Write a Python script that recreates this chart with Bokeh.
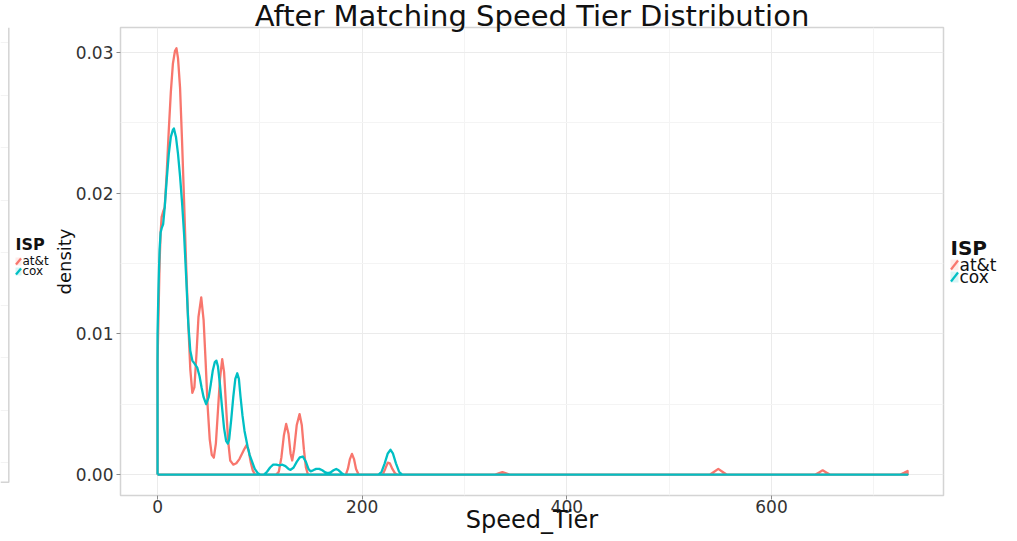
from bokeh.plotting import figure
from bokeh.layouts import row
from bokeh.models import Range1d, FixedTicker, PrintfTickFormatter
from bokeh.core.properties import value
from bokeh.embed import file_html
from bokeh.resources import INLINE

# ---------------- data ----------------
title_text = "After Matching Speed Tier Distribution"
x_label = "Speed_Tier"
y_label = "density"
legend_title = "ISP"
isp_names = ["at&t", "cox"]
isp_colors = ["#F8766D", "#00BFC4"]

att_x = [0, 1, 2, 3, 4, 5.5, 7, 9, 11, 13, 15, 17, 18.5, 20, 22, 24, 26, 28, 30, 32, 34,
         36, 38, 40, 42.7, 45, 47, 49, 51, 53, 55, 57, 59, 61, 63.2, 65, 67, 69, 71, 74, 77,
         80, 84, 87, 89, 91, 93, 95, 96,
         116, 118.5, 121, 123.5, 125.7, 128, 130, 131.6, 133.5, 136, 138.8, 141, 143, 145, 147,
         184, 186, 188, 190, 192, 194, 196.5,
         220, 222.5, 225, 227, 229.5, 232, 234,
         330, 334, 337, 340, 344,
         540, 544, 548, 552, 556,
         643, 646.5, 650, 653.5, 657,
         726, 729.5, 733]
att_y = [0.0080, 0.0115, 0.0150, 0.0172, 0.0183, 0.0187, 0.0190, 0.0215, 0.0245, 0.0272,
         0.0292, 0.0301, 0.0303, 0.0296, 0.0275, 0.0236, 0.0193, 0.0148, 0.0108, 0.0075,
         0.0058, 0.0062, 0.0085, 0.0112, 0.0126, 0.0110, 0.0080, 0.0048, 0.0025, 0.0014,
         0.0012, 0.0022, 0.0045, 0.0068, 0.0082, 0.0073, 0.0048, 0.0024, 0.0010, 0.0007,
         0.0008, 0.0011, 0.0017, 0.0021, 0.0017, 0.0009, 0.0003, 0.00005, 0.0,
         0.0, 0.0002, 0.0012, 0.0028, 0.0036, 0.0029, 0.0015, 0.0010, 0.0018, 0.0035,
         0.0043, 0.0035, 0.0018, 0.0005, 0.0,
         0.0, 0.0004, 0.0011, 0.00147, 0.0011, 0.0004, 0.0,
         0.0, 0.0004, 0.00085, 0.0008, 0.0004, 0.0001, 0.0,
         0.0, 0.0001, 0.00017, 0.0001, 0.0,
         0.0, 0.0002, 0.0004, 0.0002, 0.0,
         0.0, 0.00015, 0.0003, 0.00015, 0.0,
         0.0, 0.00012, 0.00025]

cox_x = [0, 1, 2, 3, 4, 5.5, 7, 9, 11, 13, 15, 16, 18, 20, 22, 24, 26, 28, 30, 32, 34, 36,
         38.8, 41, 43, 45, 47.5, 50, 52, 54, 56, 57.5, 59, 61, 63, 65, 67, 68.7, 70, 72, 74,
         76, 77.9, 79.5, 81, 83, 85, 88, 90, 92.5, 95, 98, 100,
         104, 107, 110, 113, 116, 119, 122, 125, 128, 130, 133, 136, 139, 142, 145, 147.5,
         149.5, 152, 155, 158, 161, 164, 166.5, 169, 172, 174.6, 177, 180, 182,
         216, 219, 222, 225, 227.7, 230, 233, 236, 239, 733]
cox_y = [0.0100, 0.0135, 0.0160, 0.0172, 0.0175, 0.0178, 0.0190, 0.0210, 0.0228, 0.0240,
         0.0245, 0.0246, 0.0240, 0.0228, 0.0212, 0.0193, 0.0170, 0.0140, 0.0108, 0.0088,
         0.0081, 0.0079, 0.0076, 0.0070, 0.0062, 0.0055, 0.0050, 0.0055, 0.0064, 0.0074,
         0.0080, 0.0081, 0.0077, 0.0064, 0.0048, 0.0033, 0.0024, 0.0022, 0.0025, 0.0039,
         0.0055, 0.0068, 0.0072, 0.0068, 0.0056, 0.0042, 0.0031, 0.0020, 0.0014, 0.0009,
         0.0004, 0.0001, 0.0,
         0.0, 0.0002, 0.0005, 0.0007, 0.0007, 0.00065, 0.0007, 0.0006, 0.0004, 0.00033,
         0.0005, 0.0009, 0.00122, 0.00128, 0.0009, 0.0004, 0.00023, 0.0003, 0.0004, 0.0004,
         0.0003, 0.00015, 0.0001, 0.00015, 0.0003, 0.0004, 0.0003, 0.0001, 0.0,
         0.0, 0.0002, 0.0008, 0.0015, 0.00176, 0.0015, 0.0008, 0.0002, 0.0, 0.0]

x_ticks = [0, 200, 400, 600]
x_minor = [100, 300, 500, 700]
y_ticks = [0.00, 0.01, 0.02, 0.03]
y_minor = [0.005, 0.015, 0.025]

# ---------------- styling ----------------
FONT = "DejaVu Sans"
TXT = "#111111"
H = 539
TOP, BOTTOM = 27, 495          # frame edges (pixels from the top)
BORDER = "#d4d4d4"


def blank_fig(width, x0):
    """Helper strip; its frame shares the main frame's rows, coordinates = page pixels."""
    f = figure(width=width, height=H, output_backend="svg", toolbar_location=None,
               x_range=Range1d(x0, x0 + width), y_range=Range1d(BOTTOM, TOP),
               x_axis_type=None, y_axis_type=None, min_border_left=0,
               min_border_right=0, min_border_top=TOP, min_border_bottom=H - BOTTOM)
    f.outline_line_color = None
    f.background_fill_color = "white"
    f.border_fill_color = "white"
    f.grid.visible = False
    return f


# ---------------- main figure ----------------
p = figure(width=895, height=H, output_backend="svg", toolbar_location=None,
           x_range=Range1d(-36.2, 768.1), y_range=Range1d(-0.00149, 0.03178),
           min_border_left=70, min_border_right=2, min_border_top=TOP,
           min_border_bottom=H - BOTTOM)
p.background_fill_color = "white"
p.border_fill_color = "white"
p.outline_line_color = BORDER
p.outline_line_width = 1.5

p.title.text = title_text
p.title.text_font = FONT
p.title.text_font_size = "29px"
p.title.text_font_style = "normal"
p.title.text_color = TXT
p.title.align = "center"
p.title.standoff = -10

p.xaxis.ticker = FixedTicker(ticks=x_ticks, minor_ticks=x_minor)
p.yaxis.ticker = FixedTicker(ticks=y_ticks, minor_ticks=y_minor)
p.yaxis.formatter = PrintfTickFormatter(format="%.2f")

for ax in (p.xaxis, p.yaxis):
    ax.axis_line_color = None
    ax.major_tick_line_color = "#8a8a8a"
    ax.major_tick_out = 4
    ax.major_tick_in = 0
    ax.minor_tick_line_color = None
    ax.major_label_text_font = FONT
    ax.major_label_text_font_size = "17px"
    ax.major_label_text_color = "#333333"
    ax.axis_label_text_font = FONT
    ax.axis_label_text_font_style = "normal"
    ax.axis_label_text_color = TXT
p.xaxis.major_label_standoff = 0
p.yaxis.major_label_standoff = 3
p.xaxis.axis_label = x_label
p.xaxis.axis_label_text_font_size = "24px"
p.xaxis.axis_label_standoff = -10
p.yaxis.axis_label = y_label
p.yaxis.axis_label_text_font_size = "18px"
p.yaxis.axis_label_standoff = -2

for g in (p.xgrid, p.ygrid):
    g.grid_line_color = "#ebebeb"
    g.grid_line_width = 1
    g.minor_grid_line_color = "#f4f4f4"
    g.minor_grid_line_width = 1

# density outlines (polygon outline like geom_density)
for xs, ys, col in ((att_x, att_y, isp_colors[0]), (cox_x, cox_y, isp_colors[1])):
    px = [xs[0]] + list(xs) + [xs[-1], xs[0]]
    py = [0.0] + list(ys) + [0.0, 0.0]
    p.line(px, py, line_color=col, line_width=2.3, line_join="round")


def draw_legend(f, x, y_title, y_first, step, title_px, label_px, key_w, key_h):
    # text glyph baselines sit ~0.35 em low, so lift them by that amount
    f.text(x=[x], y=[y_title - 0.35 * title_px], text=[legend_title],
           text_font=value(FONT), text_font_size=value(f"{title_px}px"),
           text_font_style="bold", text_color=TXT,
           text_baseline="alphabetic", text_align="left")
    ys = [y_first + step * i for i in range(len(isp_names))]
    f.quad(left=[x] * len(ys), right=[x + key_w] * len(ys),
           top=[y - key_h for y in ys], bottom=ys,
           fill_color=isp_colors, fill_alpha=0.15, line_color=None)
    f.segment(x0=[x + 0.5] * len(ys), y0=[y - 1 for y in ys],
              x1=[x + key_w - 0.5] * len(ys), y1=[y - key_h + 1 for y in ys],
              line_color=isp_colors, line_width=2.2)
    f.text(x=[x + key_w + 1] * len(ys), y=[y - 0.35 * label_px for y in ys],
           text=isp_names, text_font=value(FONT),
           text_font_size=value(f"{label_px}px"), text_color=TXT,
           text_baseline="alphabetic", text_align="left")


# ---------------- right legend strip ----------------
right = blank_fig(64, 945)
draw_legend(right, 950, 254, 270, 12, 20, 17, 8, 11)

# ---------------- cropped neighbouring panel on the far left ----------------
left = blank_fig(50, 0)
grid_rows = [42, 95, 147, 200, 252, 305, 357, 410, 462]
left.segment(x0=[0] * len(grid_rows), x1=[8] * len(grid_rows), y0=grid_rows,
             y1=grid_rows, line_color="#f3f3f3", line_width=1)
left.line(x=[8.3, 8.3, 0], y=[TOP, 481.7, 481.7], line_color=BORDER, line_width=1.5)
draw_legend(left, 15, 250, 265, 10, 16, 12, 6, 8)

layout = row(left, p, right, spacing=0)
open("out.html", "w").write(file_html(layout, INLINE))
